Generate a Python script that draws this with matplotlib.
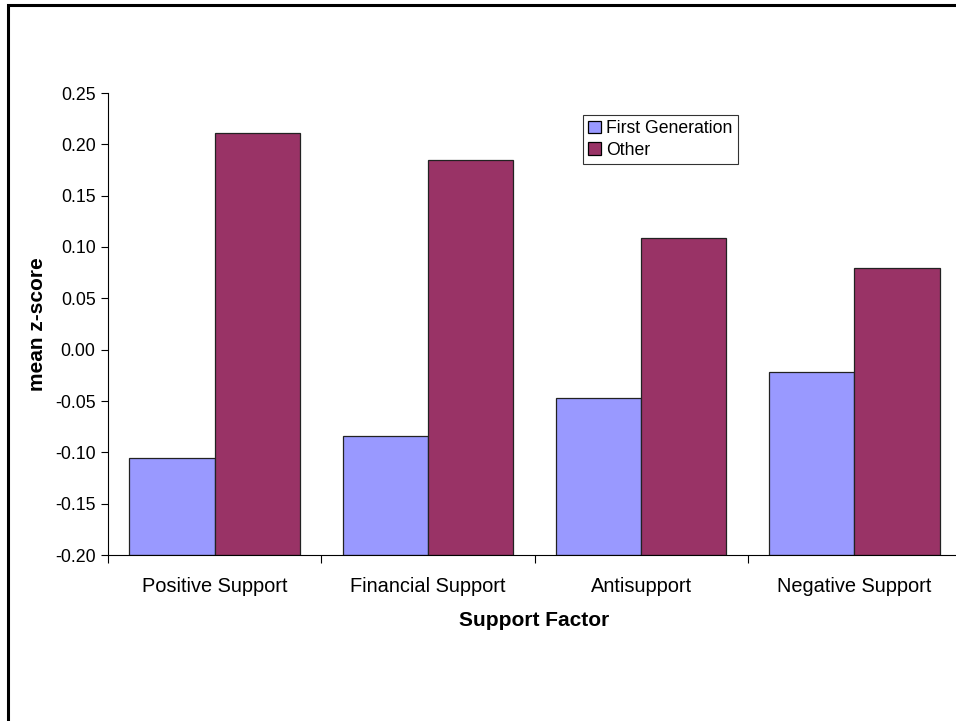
import numpy as np
import matplotlib
matplotlib.use("Agg")
import matplotlib.pyplot as plt
from matplotlib.patches import Rectangle

# data
factors = ["Positive Support", "Financial Support", "Antisupport", "Negative Support"]
first_gen = [-0.106, -0.084, -0.047, -0.022]
other = [0.211, 0.185, 0.109, 0.080]
series_names = ["First Generation", "Other"]
yticks = [-0.20, -0.15, -0.10, -0.05, 0.00, 0.05, 0.10, 0.15, 0.20, 0.25]

plt.rcParams['font.family'] = ['Liberation Sans', 'DejaVu Sans']

fig = plt.figure(figsize=(9.56, 7.21), dpi=100)
ax = fig.add_axes([108 / 956, 1 - 555 / 721, 853 / 956, 462 / 721])

# outer chart border (clipped by image edge on the right/bottom)
fig.patches.append(Rectangle((8 / 956, -0.2), 1.5, 1.2 - 5 / 721,
                             transform=fig.transFigure, fill=False,
                             edgecolor="black", linewidth=2.2, zorder=10))

x = np.arange(len(factors))
w = 0.4
ax.bar(x - w / 2, np.array(first_gen) + 0.20, w, bottom=-0.20, color="#9999FF",
       edgecolor="#222222", linewidth=0.9, label=series_names[0])
ax.bar(x + w / 2, np.array(other) + 0.20, w, bottom=-0.20, color="#993366",
       edgecolor="#222222", linewidth=0.9, label=series_names[1])

ax.set_xlim(-0.5, len(factors) - 0.5)
ax.set_ylim(-0.20, 0.25)
ax.set_yticks(yticks)
ax.set_yticklabels([f"{t:.2f}" for t in yticks])
ax.set_xticks(np.arange(len(factors) + 1) - 0.5)
ax.set_xticklabels([])
ax.set_xticks(x, minor=True)
ax.set_xticklabels(factors, minor=True)
ax.tick_params(axis="x", which="minor", length=0, pad=16, labelsize=14.4)
ax.tick_params(axis="x", which="major", length=6, width=0.8, direction="out")
ax.tick_params(axis="y", length=5, width=0.8, direction="out", labelsize=12.8, pad=4)

for s in ["top", "right"]:
    ax.spines[s].set_visible(False)
ax.spines["left"].set_linewidth(0.8)
ax.spines["bottom"].set_linewidth(0.8)

ax.set_ylabel("mean z-score", fontsize=15, fontweight="bold", labelpad=6)
ax.set_xlabel("Support Factor", fontsize=15, fontweight="bold", labelpad=11)

leg = ax.legend(loc="upper left", bbox_to_anchor=(475 / 853, 1 - 22 / 462),
                frameon=True, fancybox=False, edgecolor="black", fontsize=12.7,
                handlelength=0.7, handleheight=0.7, handletextpad=0.3,
                borderpad=0.3, labelspacing=0.25, borderaxespad=0)
leg.get_frame().set_linewidth(0.8)
for h in leg.legend_handles:
    h.set_edgecolor("black")

fig.savefig("out.png", dpi=100)
